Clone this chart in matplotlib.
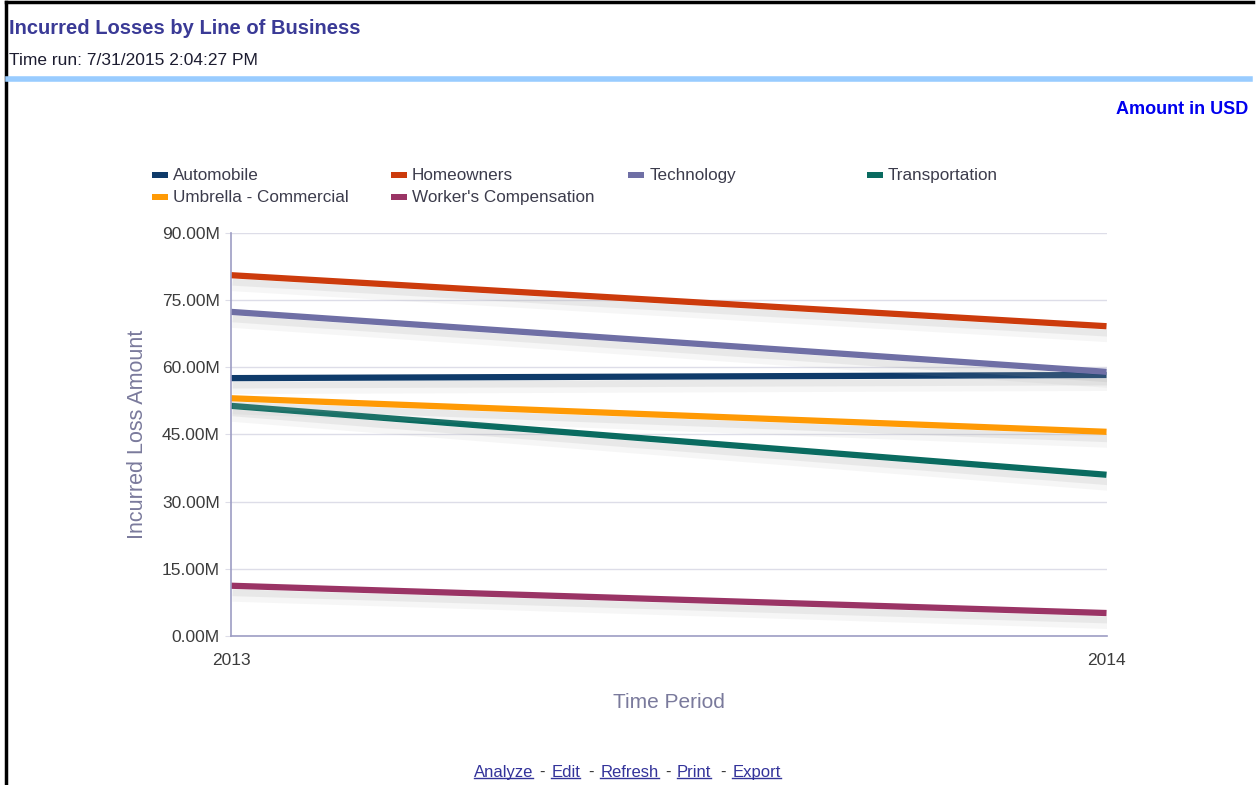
import matplotlib
matplotlib.use("Agg")
import matplotlib.pyplot as plt
import matplotlib.patheffects as pe
from matplotlib.lines import Line2D
from matplotlib.patches import Rectangle
from matplotlib.ticker import FuncFormatter

# data (millions USD)
periods = ["2013", "2014"]
series_names = ["Automobile", "Homeowners", "Technology", "Transportation",
                "Umbrella - Commercial", "Worker's Compensation"]
automobile = [57.6, 58.3]
homeowners = [80.6, 69.2]
technology = [72.4, 59.0]
transportation = [51.4, 36.0]
umbrella = [53.1, 45.6]
workers_comp = [11.2, 5.1]
colors = ["#0f3b6a", "#cc3b0c", "#6f6fa5", "#0a6b60", "#ff9a05", "#9a3465"]
yticks = [0, 15, 30, 45, 60, 75, 90]

values = [automobile, homeowners, technology, transportation, umbrella, workers_comp]

plt.rcParams["font.family"] = ["Liberation Sans", "DejaVu Sans"]

fig = plt.figure(figsize=(12.56, 7.85), dpi=100)

# page frame + header rule
fig.add_artist(Line2D([0.005, 0.005], [0.0, 0.997], color="black", lw=2.5,
                      transform=fig.transFigure))
fig.add_artist(Line2D([0.005, 0.998], [0.997, 0.997], color="black", lw=2.5,
                      transform=fig.transFigure))
fig.add_artist(Line2D([0.006, 0.995], [0.9, 0.9], color="#99ccff", lw=4,
                      transform=fig.transFigure))

fig.text(0.007, 0.964, "Incurred Losses by Line of Business", fontsize=14.5,
         fontweight="bold", color="#3a3a96", va="center", ha="left")
fig.text(0.007, 0.923, "Time run: 7/31/2015 2:04:27 PM", fontsize=12.5,
         color="#1c1c30", va="center", ha="left")
fig.text(0.994, 0.86, "Amount in USD", fontsize=13, fontweight="bold",
         color="#0000ee", va="center", ha="right")

ax = fig.add_axes([0.184, 0.190, 0.697, 0.513])
x = range(len(periods))
for name, vals, c in zip(series_names, values, colors):
    ax.plot(x, vals, color=c, lw=4.5, solid_capstyle="butt", label=name,
            path_effects=[pe.SimpleLineShadow(offset=(1, -7), shadow_color="#aaaaaa",
                                              alpha=0.10, linewidth=9),
                          pe.SimpleLineShadow(offset=(1, -5), shadow_color="#999999",
                                              alpha=0.14, linewidth=5),
                          pe.Normal()])

ax.set_xlim(0, len(periods) - 1)
ax.set_ylim(0, 90)
ax.set_xticks(list(x))
ax.set_xticklabels(periods)
ax.set_yticks(yticks)
ax.yaxis.set_major_formatter(FuncFormatter(lambda v, p: f"{v:.2f}M"))
ax.grid(axis="y", color="#dddde8", lw=1)
ax.set_axisbelow(True)
for s in ["top", "right"]:
    ax.spines[s].set_visible(False)
for s in ["left", "bottom"]:
    ax.spines[s].set_color("#9d9dc4")
    ax.spines[s].set_linewidth(1.2)
ax.tick_params(axis="y", length=4, color="#dddde8", labelsize=12.5, labelcolor="#3c3c3c", pad=4)
ax.tick_params(axis="x", length=0, labelsize=12.5, labelcolor="#3c3c3c", pad=12)
ax.set_ylabel("Incurred Loss Amount", fontsize=15.5, color="#7a7a9c", labelpad=10)
ax.set_xlabel("Time Period", fontsize=15, color="#7a7a9c", labelpad=18)

# legend, laid out in a 4-column grid
leg_x = [0.121, 0.311, 0.500, 0.690]
leg_y = [0.777, 0.749]
for i, (name, c) in enumerate(zip(series_names, colors)):
    lx = leg_x[i % 4]
    ly = leg_y[i // 4]
    fig.add_artist(Rectangle((lx, ly - 0.004), 0.013, 0.008, transform=fig.transFigure,
                             color=c, lw=0))
    fig.text(lx + 0.017, ly, name, fontsize=12.3, color="#3c3c4c", va="center", ha="left")

# footer links
links = ["Analyze", "Edit", "Refresh", "Print", "Export"]
link_x = [0.377, 0.439, 0.478, 0.539, 0.583]
fig.canvas.draw()
renderer = fig.canvas.get_renderer()
inv = fig.transFigure.inverted()
for i, (lab, lx) in enumerate(zip(links, link_x)):
    t = fig.text(lx, 0.016, lab, fontsize=12, color="#33339a", va="center", ha="left")
    bb = t.get_window_extent(renderer)
    (x0, y0), (x1, y1) = inv.transform([(bb.x0, bb.y0), (bb.x1, bb.y1)])
    fig.add_artist(Line2D([x0, x1], [y0 + 0.002, y0 + 0.002], color="#33339a", lw=1,
                          transform=fig.transFigure))
    if i > 0:
        fig.text(lx - 0.0095, 0.016, "-", fontsize=12, color="#333333", va="center", ha="left")

fig.savefig("out.png", dpi=100)
plt.close(fig)
